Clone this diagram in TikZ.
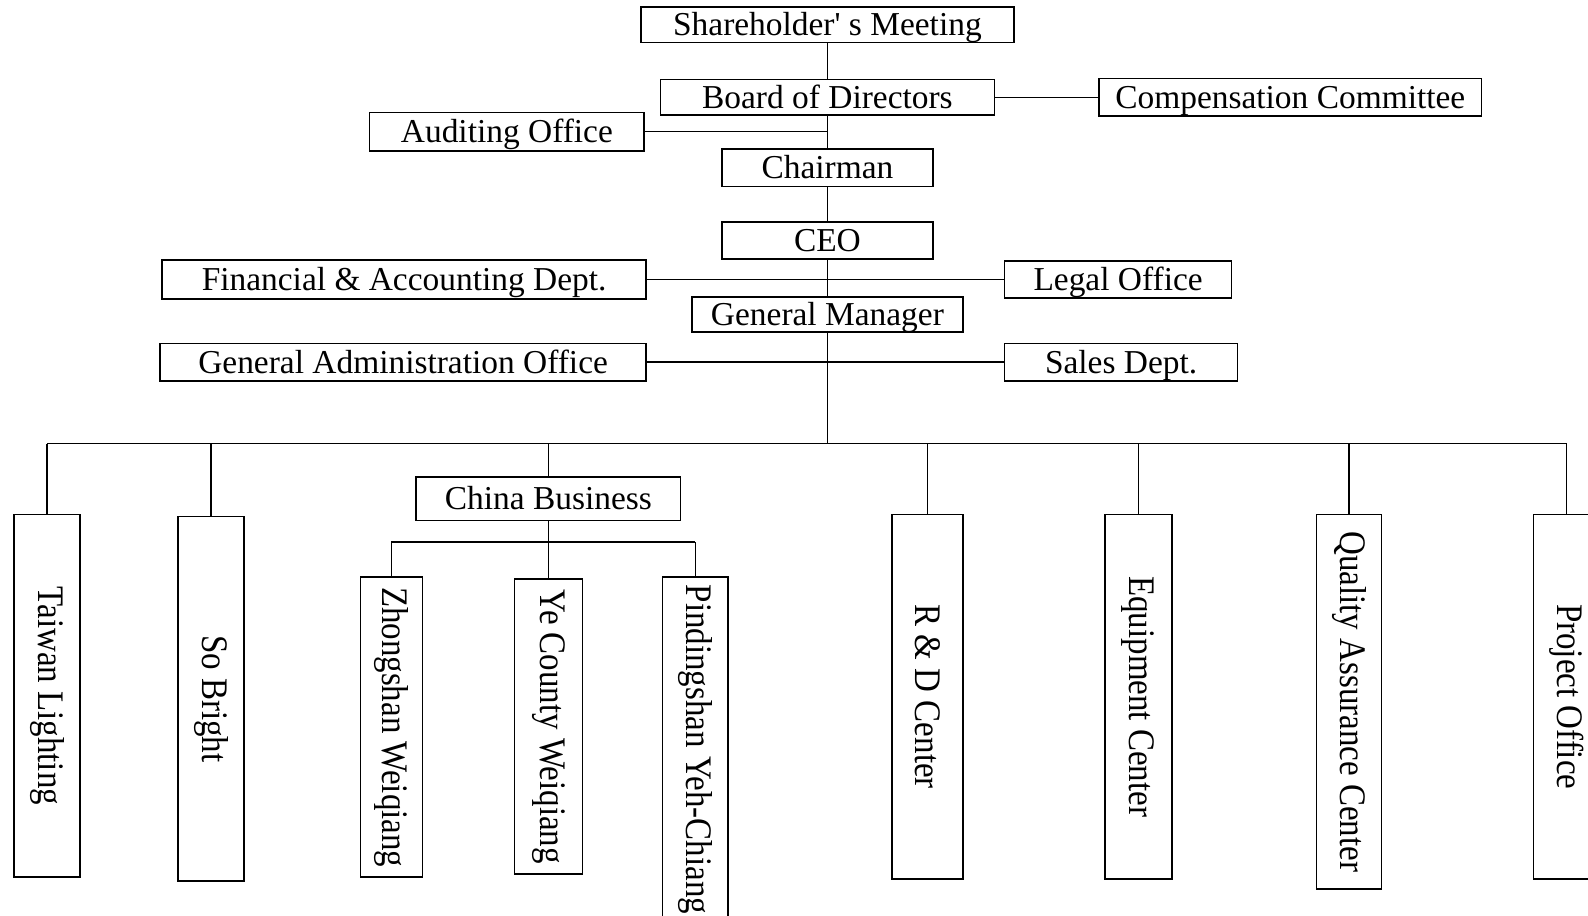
\documentclass[tikz,border=0pt]{standalone}
\usepackage{fontspec}
\setmainfont{Liberation Serif}
\newfontfamily\vertfont[FakeStretch=0.88]{Liberation Serif}
\usetikzlibrary{positioning}

\begin{document}
\begin{tikzpicture}[
  x=0.5pt, y=-0.5pt,
  unit/.style={draw, line width=0.8pt, inner sep=0pt, align=center, text height=11pt, text depth=0pt, font=\fontsize{16.5}{18}\selectfont},
  branch/.style={draw, line width=0.8pt, inner sep=0pt, rotate=-90, font=\vertfont\fontsize{18.5}{20}\selectfont},
  link/.style={line width=0.7pt}
]
\useasboundingbox (0,0) rectangle (1568,904);

% top of the chart
\node[unit, minimum width=184pt, minimum height=17.5pt] (share) at (817,24.5) {Shareholder\textquotesingle\ s Meeting};
\node[unit, minimum width=165pt, minimum height=17.5pt] (board) at (817,96) {Board of Directors};
\node[unit, minimum width=189pt, minimum height=18.5pt] (comp) at (1274,96) {Compensation Committee};
\node[unit, minimum width=135.5pt, minimum height=19pt] (audit) at (500.5,130) {Auditing Office};
\node[unit, minimum width=104pt, minimum height=18.5pt] (chair) at (817,165.5) {Chairman};
\node[unit, minimum width=104pt, minimum height=18.5pt] (ceo) at (817,237.5) {CEO};
\node[unit, minimum width=239pt, minimum height=19pt] (fin) at (399,276) {Financial \& Accounting Dept.};
\node[unit, minimum width=112pt, minimum height=18pt] (legal) at (1104,276) {Legal Office};
\node[unit, minimum width=134pt, minimum height=17.5pt] (gm) at (817,310.5) {General Manager};
\node[unit, minimum width=240pt, minimum height=18.5pt] (admin) at (398,357.5) {General Administration Office};
\node[unit, minimum width=115pt, minimum height=18.5pt] (sales) at (1107,357.5) {Sales Dept.};

\draw[link] (share) -- (board);
\draw[link] (board) -- (chair);
\draw[link] (chair) -- (ceo);
\draw[link] (ceo) -- (gm);
\draw[link] (board) -- (comp);
\draw[link] (audit.east) -- (audit.east -| board.south);
\draw[link] (fin) -- (legal);
\draw[link] (admin) -- (sales);

% business units (rotated boxes: .west is the top end)
\coordinate (bus) at (817,438);
\coordinate (sub) at (541,535);
\node[unit, minimum width=130.5pt, minimum height=21.5pt] (china) at (541.5,492.5) {China Business};
\node[branch, minimum width=179pt, minimum height=32.5pt] (taiwan) at (46.5,687) {Taiwan Lighting};
\node[branch, minimum width=180pt, minimum height=32.5pt] (sobright) at (208.5,690) {So Bright};
\node[branch, minimum width=148pt, minimum height=30.5pt] (zhong) at (386.5,718) {Zhongshan Weiqiang};
\node[branch, minimum width=145.5pt, minimum height=33.5pt] (ye) at (541.5,717.5) {Ye County Weiqiang};
\node[branch, minimum width=170pt, minimum height=32.5pt] (pind) at (686.5,740) {Pindingshan Yeh-Chiang};
\node[branch, minimum width=180pt, minimum height=35pt] (rd) at (916,688) {R \& D Center};
\node[branch, minimum width=180pt, minimum height=33pt] (equip) at (1124,688) {Equipment Center};
\node[branch, minimum width=185pt, minimum height=32pt] (qa) at (1332,693) {Quality Assurance Center};
\node[branch, minimum width=180pt, minimum height=33pt] (proj) at (1547,688) {Project Office};

\draw[link] (gm) -- (gm |- bus);
\draw[link] (taiwan.west |- bus) -- (proj.west |- bus);
\foreach \n in {taiwan,sobright,rd,equip,qa,proj}
  \draw[link] (\n.west) -- (\n.west |- bus);
\draw[link] (china) -- (china |- bus);
\draw[link] (china) -- (china |- sub);
\draw[link] (zhong.west |- sub) -- (pind.west |- sub);
\foreach \n in {zhong,ye,pind}
  \draw[link] (\n.west) -- (\n.west |- sub);

\end{tikzpicture}
\end{document}
